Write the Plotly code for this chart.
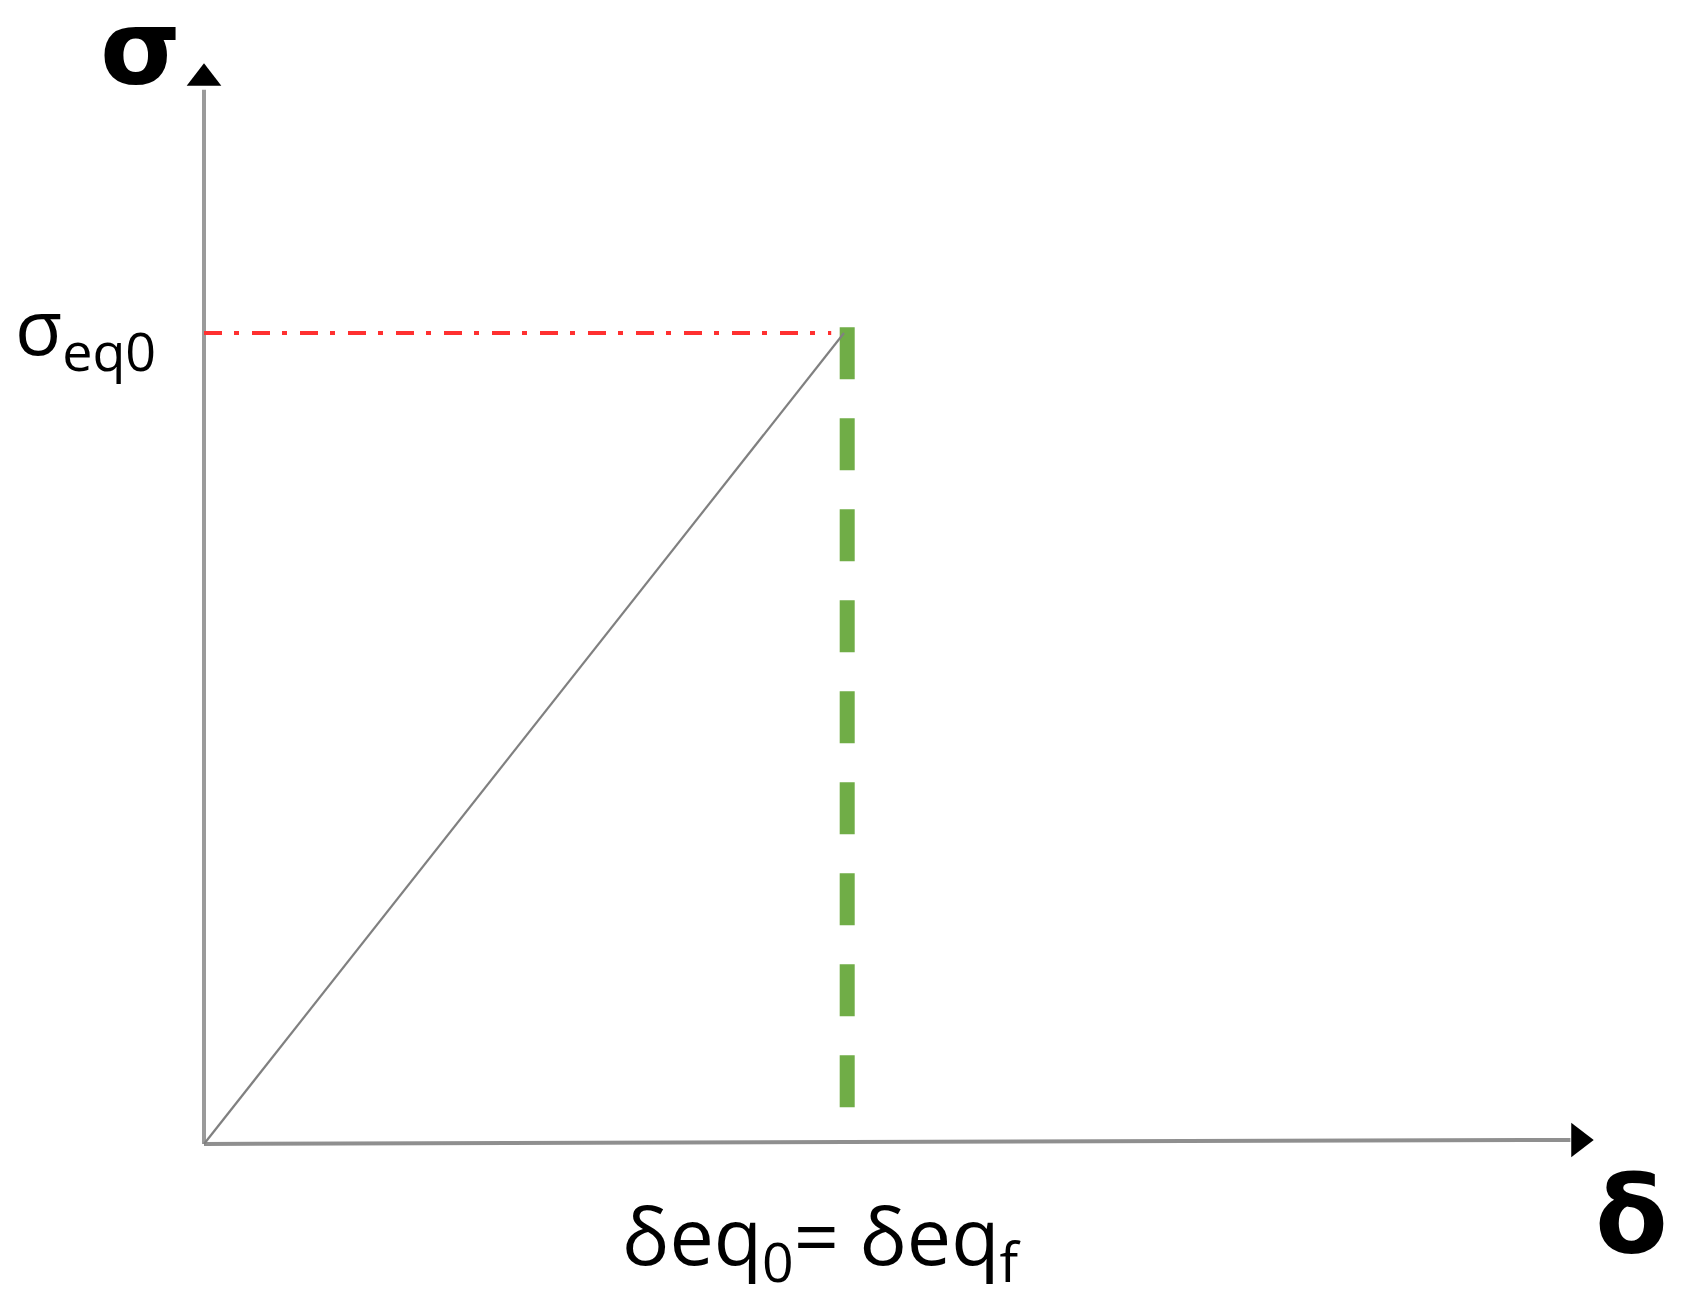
import plotly.graph_objects as go

# bilinear (elastic, brittle) law: stress rises linearly up to the peak, then fails
delta = [0.0, 1.0]
sigma = [0.0, 1.0]
delta_eq0 = 1.0
sigma_eq0 = 1.0

# axis extents (in data units)
x_axis_end = 2.17
y_axis_end = 1.335

# page has an 8px body margin, so the figure is a bit smaller than the window
W, H = 1681 - 16, 1299 - 16
X0_PX, X_SCALE = 196, 640
Y0_PX, Y_SCALE = 1136, 811

fig = go.Figure()

# axes drawn as lines with arrowheads
fig.add_trace(go.Scatter(
    x=[0, 0], y=[0, y_axis_end - 0.035],
    mode='lines', line=dict(color='#9a9a9a', width=4),
    hoverinfo='skip'
))
fig.add_trace(go.Scatter(
    x=[0, x_axis_end - 0.035], y=[0, 0.005],
    mode='lines', line=dict(color='#8f8f8f', width=4),
    hoverinfo='skip'
))
fig.add_trace(go.Scatter(
    x=[0], y=[y_axis_end - 0.021],
    mode='markers', marker=dict(symbol='triangle-up', size=30, color='black'),
    hoverinfo='skip'
))
fig.add_trace(go.Scatter(
    x=[x_axis_end - 0.022], y=[0.005],
    mode='markers', marker=dict(symbol='triangle-right', size=30, color='black'),
    hoverinfo='skip'
))

# red dash-dot level of sigma_eq0
fig.add_trace(go.Scatter(
    x=[0, delta_eq0 - 0.02], y=[sigma_eq0, sigma_eq0],
    mode='lines', line=dict(color='#ff3030', width=4, dash='18px,12px,5px,13px'),
    hoverinfo='skip'
))

# green dashed line at delta_eq0
fig.add_trace(go.Scatter(
    x=[delta_eq0 + 0.005, delta_eq0 + 0.005], y=[sigma_eq0 + 0.007, 0.04],
    mode='lines', line=dict(color='#70ad47', width=15, dash='52px,39px'),
    hoverinfo='skip'
))

# linear branch
fig.add_trace(go.Scatter(
    x=delta, y=sigma,
    mode='lines', line=dict(color='#808080', width=2.2),
    hoverinfo='skip'
))

font = 'Open Sans'
annotations = [
    dict(x=-0.1, y=1.352, text='<b>σ</b>', font=dict(size=104, family='DejaVu Sans', color='black')),
    dict(x=2.23, y=-0.088, text='<b>δ</b>', font=dict(size=106, family='DejaVu Sans', color='black')),
    dict(x=-0.185, y=sigma_eq0 + 0.004, text='σ<sub>eq0</sub>', font=dict(size=77, family=font, color='black')),
    dict(x=0.965, y=-0.118, text='δeq<sub>0</sub>= δeq<sub>f</sub>', font=dict(size=79, family=font, color='black')),
]
for a in annotations:
    a.update(xref='x', yref='y', showarrow=False)

fig.update_layout(
    width=W,
    height=H,
    margin=dict(l=0, r=0, t=0, b=0),
    paper_bgcolor='white',
    plot_bgcolor='white',
    showlegend=False,
    annotations=annotations,
    xaxis=dict(range=[-X0_PX / X_SCALE, (W - X0_PX) / X_SCALE], visible=False, fixedrange=True),
    yaxis=dict(range=[-(H - Y0_PX) / Y_SCALE, Y0_PX / Y_SCALE], visible=False, fixedrange=True),
)

fig.write_html("out.html")
